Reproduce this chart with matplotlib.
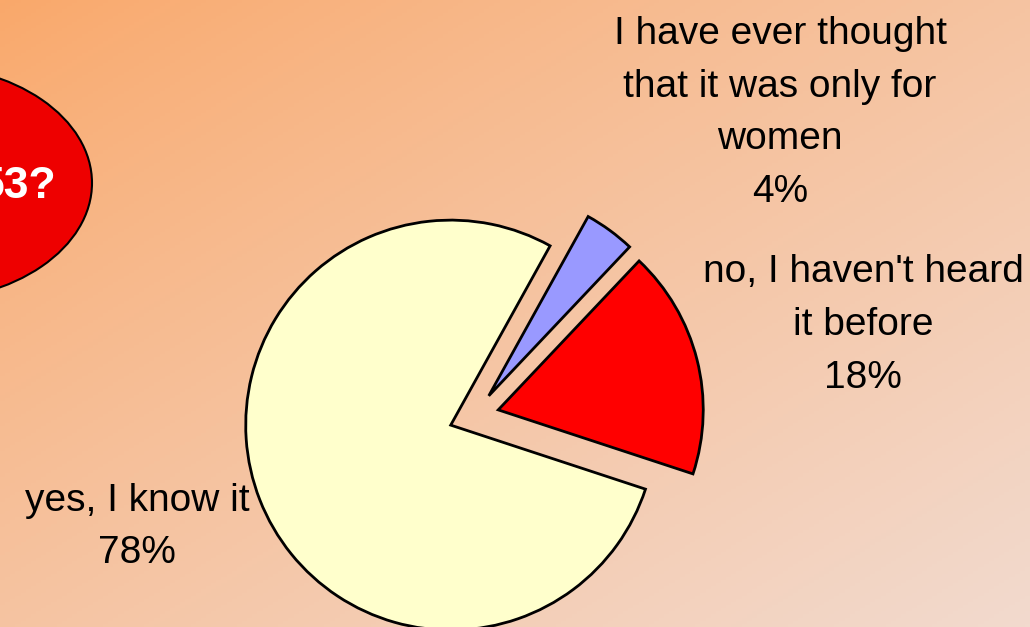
import numpy as np
import matplotlib
matplotlib.use("Agg")
import matplotlib.pyplot as plt
from matplotlib.patches import Ellipse

# Data
categories = ["yes, I know it", "no, I haven't heard\nit before",
              "I have ever thought\nthat it was only for\nwomen"]
values = [78, 18, 4]
colors = ["#FFFFCC", "#FF0000", "#9999FF"]

W, H = 1030, 627
fig = plt.figure(figsize=(W / 100, H / 100), dpi=100)
ax = fig.add_axes([0, 0, 1, 1])

# background gradient (diagonal, orange top-left to pale bottom-right)
c0 = np.array([250, 168, 106]) / 255.0
c1 = np.array([242, 218, 206]) / 255.0
xx, yy = np.meshgrid(np.linspace(0, 1, 200), np.linspace(0, 1, 200))
t = np.clip((xx + yy) / 2.0, 0, 1) ** 0.85
img = c0[None, None, :] * (1 - t[..., None]) + c1[None, None, :] * t[..., None]
ax.imshow(img, extent=[0, W, 0, H], origin="upper", zorder=0, aspect="auto")

# red ellipse at left (partially off-canvas)
ell = Ellipse((-80, H - 183), 344, 236, facecolor="#EE0000", edgecolor="black",
              linewidth=1.5, zorder=1)
ax.add_patch(ell)
ax.text(56, H - 186, "53?", color="white", fontsize=32, fontweight="bold",
        family="Liberation Sans", ha="right", va="center", zorder=2)

# pie
R = 205
wedges, _ = ax.pie(values, colors=colors, startangle=61, counterclock=True,
                   radius=R, center=(474, H - 416), explode=[25, 25, 25],
                   wedgeprops=dict(edgecolor="black", linewidth=2),
                   frame=True)
for w in wedges:
    w.set_zorder(3)
ax.set_xlim(0, W)
ax.set_ylim(0, H)
ax.set_aspect("equal")
ax.axis("off")

lab_kw = dict(fontsize=28, family="Liberation Sans", ha="center", va="center",
              linespacing=1.59, zorder=4, color="black")
pcts = [f"{v}%" for v in values]
ax.text(137, H - 527, categories[0] + "\n" + pcts[0], **lab_kw)
ax.text(863, H - 325, categories[1] + "\n" + pcts[1], **lab_kw)
ax.text(780, H - 113, categories[2] + "\n" + pcts[2], **lab_kw)

fig.savefig("out.png", dpi=100)
